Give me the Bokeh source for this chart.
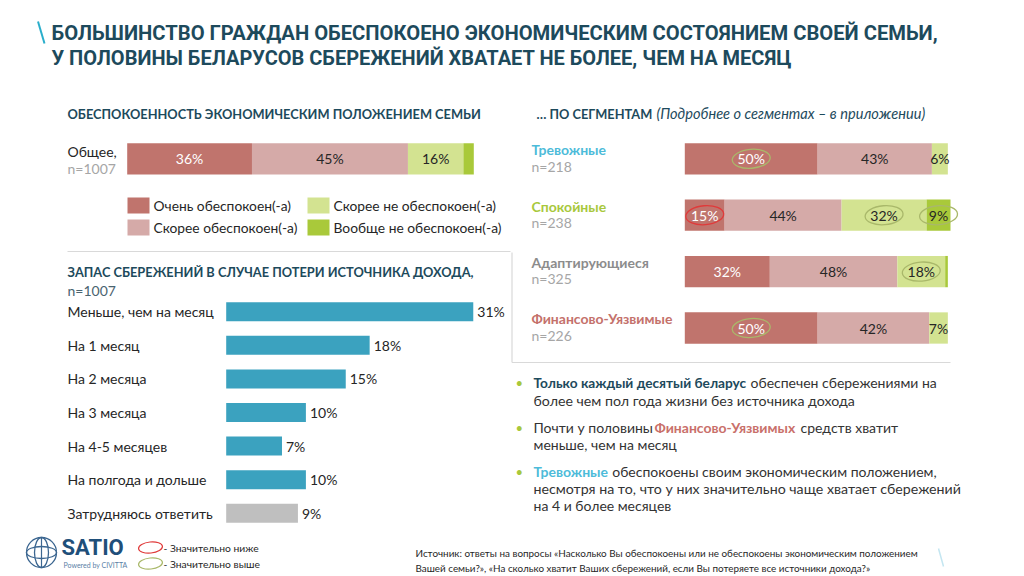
import numpy as np
from bokeh.plotting import figure
from bokeh.models import Range1d
from bokeh.core.properties import value
from bokeh.embed import file_html
from bokeh.resources import INLINE

W, H = 1024, 576

# ---------------- data ----------------
title_lines = ["БОЛЬШИНСТВО ГРАЖДАН ОБЕСПОКОЕНО ЭКОНОМИЧЕСКИМ СОСТОЯНИЕМ СВОЕЙ СЕМЬИ,",
               "У ПОЛОВИНЫ БЕЛАРУСОВ СБЕРЕЖЕНИЙ ХВАТАЕТ НЕ БОЛЕЕ, ЧЕМ НА МЕСЯЦ"]
concern_heading = "ОБЕСПОКОЕННОСТЬ ЭКОНОМИЧЕСКИМ ПОЛОЖЕНИЕМ СЕМЬИ"
concern_levels = ["Очень обеспокоен(-а)", "Скорее обеспокоен(-а)",
                  "Скорее не обеспокоен(-а)", "Вообще не обеспокоен(-а)"]
overall_label = "Общее,"
overall_n = "n=1007"
overall_values = [36, 45, 16, 3]

segments_heading = "… ПО СЕГМЕНТАМ"
segments_note = "(Подробнее о сегментах – в приложении)"
segments = ["Тревожные", "Спокойные", "Адаптирующиеся", "Финансово-Уязвимые"]
segment_n = ["n=218", "n=238", "n=325", "n=226"]
seg_very = [50, 15, 32, 50]
seg_rather = [43, 44, 48, 42]
seg_rather_not = [6, 32, 18, 7]
seg_not_at_all = [0, 9, 1, 0]
# significance marks: segment index, level index, kind
sig_segment = [0, 1, 1, 1, 2, 3]
sig_level = [0, 0, 2, 3, 2, 0]
sig_kind = ["выше", "ниже", "выше", "выше", "выше", "выше"]

savings_heading = "ЗАПАС СБЕРЕЖЕНИЙ В СЛУЧАЕ ПОТЕРИ ИСТОЧНИКА ДОХОДА,"
savings_n = "n=1007"
savings_categories = ["Меньше, чем на месяц", "На 1 месяц", "На 2 месяца", "На 3 месяца",
                      "На 4-5 месяцев", "На полгода и дольше", "Затрудняюсь ответить"]
savings_values = [31, 18, 15, 10, 7, 10, 9]

source_lines = ["Источник: ответы на вопросы «Насколько Вы обеспокоены или не обеспокоены экономическим положением",
                "Вашей семьи?», «На сколько хватит Ваших сбережений, если Вы потеряете все источники дохода?»"]

# ---------------- style ----------------
FONT = value("Lato")
TITLE_FONT = value("Roboto")
DARK = "#1d4a5c"
TXT = "#262626"
GREY_N = "#a6a6a6"
level_colors = ["#c0746d", "#d5aaa8", "#d3e391", "#a9c93a"]
level_text = ["#ffffff", TXT, TXT, TXT]
seg_colors = ["#4dbbd9", "#a8c83c", "#8c8c8c", "#c4716b"]
sav_colors = ["#3ba2bf"] * 6 + ["#bfbfbf"]
sig_colors = {"выше": "#a9b86a", "ниже": "#e03a3a"}

p = figure(width=W, height=H, x_range=Range1d(0, W), y_range=Range1d(H, 0),
           output_backend="svg", toolbar_location=None,
           x_axis_type=None, y_axis_type=None,
           min_border=0, min_border_left=0, min_border_right=0,
           min_border_top=0, min_border_bottom=0)
p.grid.visible = False
p.outline_line_color = None
p.background_fill_color = "white"
p.border_fill_color = "white"


def xr(p0, ppu):
    return Range1d((0 - p0) / ppu, (W - p0) / ppu)


def yr(p0, ppu):
    return Range1d((H - p0) / ppu, (0 - p0) / ppu)


p.extra_x_ranges = {"all": xr(126.7, 3.466), "seg": xr(684.3, 2.657), "sav": xr(225.7, 7.97)}
p.extra_y_ranges = {"rows": yr(158.3, 56.4), "sav": yr(311.2, 33.6)}


def txt(x, y, s, size=14, color=TXT, style="normal", font=FONT, align="left",
        baseline="middle", **kw):
    xs = x if isinstance(x, (list, np.ndarray)) else [x]
    ys = y if isinstance(y, (list, np.ndarray)) else [y]
    ss = s if isinstance(s, list) else [s]
    p.text(x=xs, y=ys, text=ss, text_font=font, text_font_size=f"{size}px",
           text_color=color, text_font_style=style, text_align=align,
           text_baseline=baseline, **kw)


# ---------------- title ----------------
p.segment(x0=[37.5], y0=[21], x1=[44], y1=[43], line_color="#2aaecb", line_width=2)
txt(51, 32, title_lines[0], size=20.2, color=DARK, style="bold", font=TITLE_FONT)
txt(51, 57, title_lines[1], size=20.0, color=DARK, style="bold", font=TITLE_FONT)

# ---------------- stacked bars ----------------
BAR_H = 31.3 / 56.4


def stacked(levels, rows, xname):
    vals = np.array(levels, dtype=float)
    right = np.cumsum(vals, axis=0)
    left = right - vals
    for k in range(vals.shape[0]):
        p.hbar(y=rows, left=left[k], right=right[k], height=BAR_H,
               fill_color=level_colors[k], line_color=None,
               x_range_name=xname, y_range_name="rows")
        xs, ys, ls = [], [], []
        for j, r in enumerate(rows):
            if vals[k, j] >= 5:
                xs.append((left[k, j] + right[k, j]) / 2)
                ys.append(r)
                ls.append(f"{int(vals[k, j])}%")
        if xs:
            txt(xs, ys, ls, size=14, color=level_text[k], align="center",
                x_range_name=xname, y_range_name="rows")
    return left, right


# overall
txt(67, 113, concern_heading, size=12.8, color=DARK, style="bold")
stacked([[v] for v in overall_values], [0], "all")
txt(67, 151, overall_label, size=14, color=TXT)
txt(67, 168, overall_n, size=14, color=GREY_N)

# legend
leg_x = [127, 127, 307, 307]
leg_y = [205, 227, 205, 227]
p.rect(x=[x + 11 for x in leg_x], y=leg_y, width=22, height=16,
       fill_color=level_colors, line_color=None)
txt([x + 26 for x in leg_x], leg_y, concern_levels, size=13.8, color=TXT)

# segments
txt(536, 113, segments_heading, size=12.8, color=DARK, style="bold")
txt(656, 113, segments_note, size=14.6, color=DARK, style="italic")
seg_rows = list(range(len(segments)))
left, right = stacked([seg_very, seg_rather, seg_rather_not, seg_not_at_all], seg_rows, "seg")
for j, name in enumerate(segments):
    txt(531, [j - 0.16], name, size=14, color=seg_colors[j], style="bold",
        y_range_name="rows")
    txt(531, [j + 0.13], segment_n[j], size=14, color=GREY_N, y_range_name="rows")

for kind in ("выше", "ниже"):
    ex = [(left[l, s] + right[l, s]) / 2 for s, l, k in zip(sig_segment, sig_level, sig_kind) if k == kind]
    ey = [s for s, l, k in zip(sig_segment, sig_level, sig_kind) if k == kind]
    p.ellipse(x=ex, y=ey, width=38, height=19, width_units="screen", height_units="screen",
              angle=0.08, fill_color=None, line_color=sig_colors[kind], line_width=1.3,
              x_range_name="seg", y_range_name="rows")

# ---------------- savings ----------------
txt(67, 271, savings_heading, size=12.8, color=DARK, style="bold")
txt(67, 290, savings_n, size=14, color="#4a6470")
sav_rows = list(range(len(savings_categories)))
p.hbar(y=sav_rows, left=0, right=savings_values, height=19 / 33.6,
       fill_color=sav_colors, line_color=None, x_range_name="sav", y_range_name="sav")
txt([67] * len(sav_rows), sav_rows, savings_categories, size=14, color=TXT, y_range_name="sav")
txt(savings_values, sav_rows, [f"{v}%" for v in savings_values], size=14, color=TXT,
    x_offset=4, x_range_name="sav", y_range_name="sav")

# ---------------- dividers ----------------
p.segment(x0=[67, 511.5, 511.5], y0=[251, 252, 362], x1=[510, 511.5, 950], y1=[251, 362, 362],
          line_color="#d9d9d9", line_width=1.2)

# ---------------- bullets ----------------
BODY = "#333333"
txt([515, 515, 515], [382, 427, 471], ["•", "•", "•"], size=13, color="#a8c83c")
txt(533, 382, "Только каждый десятый беларус", size=13.7, color=DARK, style="bold")
txt(750, 382, "обеспечен сбережениями на", size=14, color=BODY)
txt(533, 400, "более чем пол года жизни без источника дохода", size=14.2, color=BODY)
txt(533, 427, "Почти у половины", size=14, color=BODY)
txt(654, 427, "Финансово-Уязвимых", size=14, color="#c9706a", style="bold")
txt(800, 427, "средств хватит", size=14, color=BODY)
txt(533, 444, "меньше, чем на месяц", size=14, color=BODY)
txt(533, 471, "Тревожные", size=14, color="#4dbbd9", style="bold")
txt(611.7, 471, "обеспокоены своим экономическим положением,", size=14, color=BODY)
txt(533, 488, "несмотря на то, что у них значительно чаще хватает сбережений", size=14.2, color=BODY)
txt(533, 505, "на 4 и более месяцев", size=14, color=BODY)

# ---------------- footer ----------------
LOGO = "#1f4f7a"
p.ellipse(x=[41, 41, 41], y=[552, 552, 552], width=[30, 14, 30], height=[30, 30, 12],
          width_units="screen", height_units="screen", fill_color=None,
          line_color="#3d6791", line_width=1.3)
p.segment(x0=[41], y0=[537], x1=[41], y1=[567], line_color="#3d6791", line_width=1.2)
txt(61, 547, "SATIO", size=22, color=LOGO, style="bold", font=value("Roboto"))
txt(63, 564, "Powered by CIVITTA", size=7, color="#5b7fa6")

p.ellipse(x=[150, 150], y=[547, 563], width=[24, 24], height=[11, 11],
          width_units="screen", height_units="screen", angle=0.1, fill_color=None,
          line_color=[sig_colors["ниже"], sig_colors["выше"]], line_width=1.2)
txt([163, 163], [547, 563], ["- Значительно ниже", "- Значительно выше"], size=10.3, color=TXT)

txt(415, 552, source_lines[0], size=9.9, color=TXT)
txt(415, 567, source_lines[1], size=9.9, color=TXT)
p.segment(x0=[938], y0=[548], x1=[943], y1=[566], line_color="#c4e6f1", line_width=1.5)

open("out.html", "w").write(file_html(p, INLINE))
